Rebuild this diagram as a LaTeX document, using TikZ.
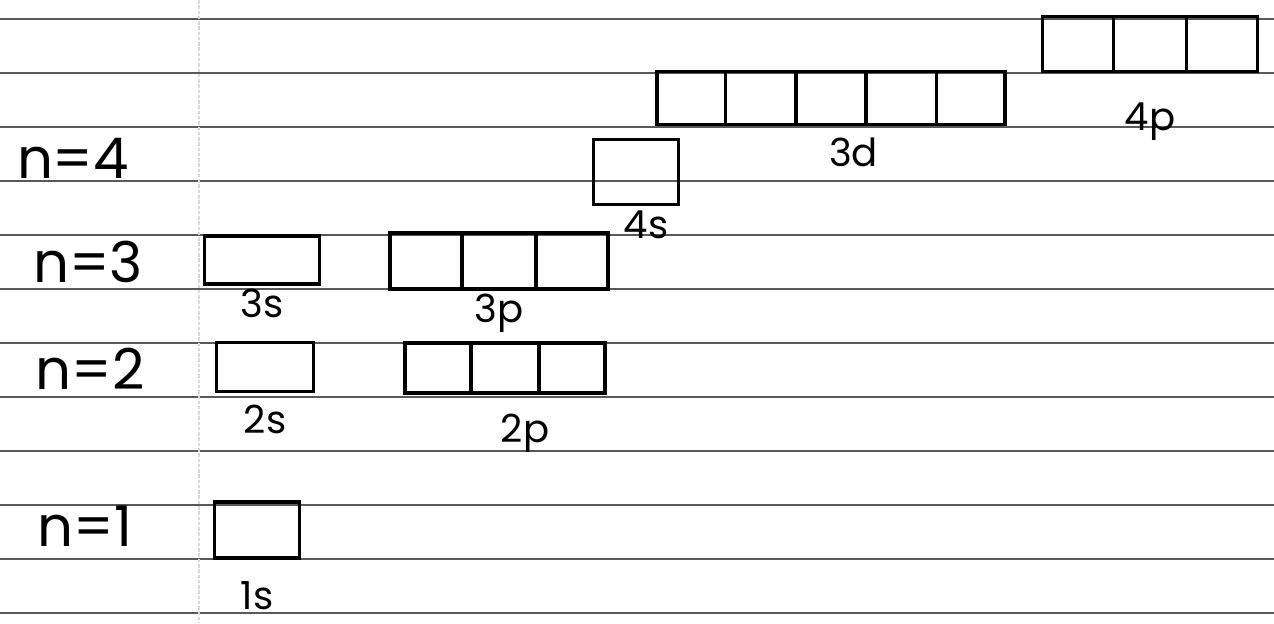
\documentclass[tikz,border=0pt]{standalone}
\usepackage{fontspec}
\setmainfont{Poppins}
\usetikzlibrary{positioning,calc}

\begin{document}
\begin{tikzpicture}[x=0.02cm,y=-0.02cm,node distance=0.15cm,
  orb/.style={rectangle,draw,line width=2pt,inner sep=0pt},
  lbl/.style={font=\fontsize{22}{24}\selectfont,inner sep=1pt},
  lev/.style={font=\fontsize{32}{36}\selectfont,inner sep=0pt},
  rule/.style={draw=black!65,line width=0.6pt}]
\useasboundingbox[fill=white] (0,0) rectangle (1274,623);
\foreach \y in {19,73,...,613} \draw[rule] (0,\y) -- (1274,\y);
\draw[black!15,line width=0.6pt,dash pattern=on 2pt off 1pt] (199,0) -- (199,623);
\node[lev] (n4) at (73,158) {n=4};
\node[lev] (n3) at (88,262) {n=3};
\node[lev] (n2) at (90,369) {n=2};
\node[lev] (n1) at (85,526) {n=1};
\node[orb,minimum width=1.7cm,minimum height=1.12cm] (o1s) at (257,530) {};
\node[orb,minimum width=1.94cm,minimum height=0.98cm] (o2s) at (265,367) {};
\node[orb,minimum width=4cm,minimum height=1cm] (o2p) at (505,368) {};
\node[orb,minimum width=2.3cm,minimum height=0.96cm] (o3s) at (262,260) {};
\node[orb,minimum width=4.36cm,minimum height=1.12cm] (o3p) at (499,261) {};
\node[orb,minimum width=1.7cm,minimum height=1.3cm] (o4s) at (636,172) {};
\node[orb,minimum width=6.96cm,minimum height=1.06cm] (o3d) at (831,98) {};
\node[orb,minimum width=4.3cm,minimum height=1.1cm] (o4p) at (1150,44) {};
\foreach \b/\n in {o2p/3,o3p/3,o3d/5,o4p/3}
  \foreach \k in {2,...,\n}
    \draw[line width=2pt] ($(\b.north west)!{(\k-1)/\n}!(\b.north east)$)
      -- ($(\b.south west)!{(\k-1)/\n}!(\b.south east)$);
\node[lbl,below=0.4cm of o1s] (l1s) {1s};
\node[lbl,below=0.2cm of o2s] (l2s) {2s};
\node[lbl,below=0.35cm of o2p,xshift=0.4cm] (l2p) {2p};
\node[lbl,below=0.02cm of o3s] (l3s) {3s};
\node[lbl,below=0.02cm of o3p] (l3p) {3p};
\node[lbl,below=0.05cm of o4s,xshift=0.2cm] (l4s) {4s};
\node[lbl,below=0.2cm of o3d,xshift=0.45cm] (l3d) {3d};
\node[lbl,below=0.55cm of o4p] (l4p) {4p};
\end{tikzpicture}
\end{document}
